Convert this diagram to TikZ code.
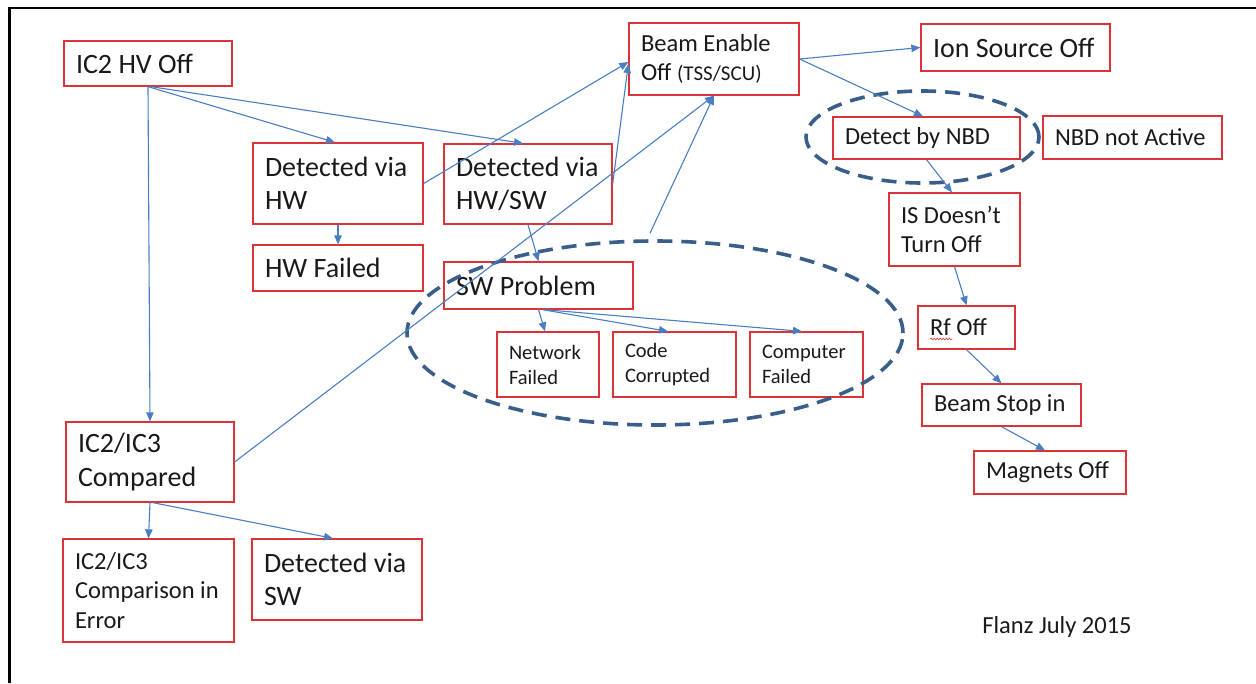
\documentclass[tikz,border=0pt]{standalone}
\usepackage{fontspec}
\setmainfont{Carlito}
\usetikzlibrary{arrows.meta,shapes.geometric,decorations.pathmorphing}
\definecolor{boxred}{RGB}{218,52,56}
\definecolor{linkblue}{RGB}{74,126,195}
\definecolor{groupblue}{RGB}{58,94,138}
\newcommand{\bigtxt}{\fontsize{28}{33.5}\selectfont}
\newcommand{\midtxt}{\fontsize{24.5}{29.5}\selectfont}
\newcommand{\smalltxt}{\fontsize{20.5}{25}\selectfont}
\newcommand{\tinytxt}{\fontsize{21}{24}\selectfont}
\tikzset{
  fbox/.style n args={3}{rectangle, draw=boxred, line width=1.3pt,
    inner xsep=12pt, inner ysep=0pt, minimum width=#1pt, minimum height=#2pt,
    text width=#3pt, align=flush left, text=black!90},
  grp/.style={ellipse, draw=groupblue, line width=3.6pt,
    dash pattern=on 15pt off 9pt, inner sep=0pt},
  link/.style={draw=linkblue, line width=1.1pt,
    -{Triangle[length=9pt,width=7.5pt]}}
}
\begin{document}
\hyphenpenalty=10000
\exhyphenpenalty=10000
\begin{tikzpicture}[x=1pt,y=-1pt]
\useasboundingbox (0,0) rectangle (1256,683);
% page frame (top and left edges only)
\draw[line width=2.4pt, black] (9.5,683) -- (9.5,7.8) -- (1256,7.8);

% left column
\node[fbox={168}{45}{144}, font=\bigtxt] (hvoff) at (148,63.5) {IC2~HV~Off};
\node[fbox={168}{80}{144}, font=\bigtxt] (cmp) at (150,462) {IC2/IC3\\Compared};
\node[fbox={171}{103}{147}, font=\midtxt] (cerr) at (148.5,590.5) {IC2/IC3\\Comparison~in\\Error};
\node[fbox={170}{81}{146}, font=\bigtxt] (dsw) at (337,579.5) {Detected~via\\SW};

% hardware / software detection
\node[fbox={170}{81}{146}, font=\bigtxt] (dhw) at (338,183.5) {Detected~via\\HW};
\node[fbox={170}{46}{146}, font=\bigtxt] (hwf) at (338,268) {HW~Failed};
\node[fbox={168}{80}{144}, font=\bigtxt] (dhwsw) at (528,184) {Detected~via\\HW/SW};
\node[fbox={189}{47}{165}, font=\bigtxt] (swp) at (538.5,285.5) {SW~Problem};
\node[fbox={102}{65}{78}, font=\smalltxt] (net) at (548,364.5) {Network\\Failed};
\node[fbox={123}{65}{99}, font=\smalltxt] (code) at (674.5,364.5) {Code\\Corrupted};
\node[fbox={113}{65}{89}, font=\smalltxt] (comp) at (806.5,364.5) {Computer\\Failed};

% beam enable chain
\node[fbox={170}{72}{146}, font=\midtxt] (beam) at (714,59) {Beam~Enable\\Off~{\tinytxt(TSS/SCU)}};
\node[fbox={189}{47}{165}, font=\bigtxt] (ion) at (1015.5,47.5) {Ion~Source~Off};
\node[fbox={187}{42}{163}, font=\midtxt] (nbd) at (926.5,138) {Detect~by~NBD};
\node[fbox={179}{43}{155}, font=\midtxt] (nbdna) at (1132.5,137.5) {NBD~not~Active};
\node[fbox={131}{73}{107}, font=\midtxt] (isoff) at (954.5,229.5) {IS~Doesn’t\\Turn~Off};
\node[fbox={97}{43}{73}, font=\midtxt] (rf) at (966.5,327.5) {Rf~Off};
\node[fbox={159}{42}{135}, font=\midtxt] (bstop) at (1001.5,405) {Beam~Stop~in};
\node[fbox={152}{43}{128}, font=\midtxt] (mag) at (1050,472.5) {Magnets~Off};

\node[font=\midtxt, text=black!90] (sig) at (1057,627) {Flanz July 2015};

% dashed groupings
\node[grp, minimum width=496pt, minimum height=184pt] (swgrp) at (655,333) {};
\node[grp, minimum width=233pt, minimum height=92pt] (nbdgrp) at (922.5,137) {};

% spelling squiggle under "Rf"
\draw[boxred, line width=0.6pt, decorate,
  decoration={snake, amplitude=0.9pt, segment length=3pt}]
  ([xshift=13pt,yshift=-11.5pt]rf.west) -- ++(22pt,0);

% connectors
\draw[link] (hvoff.south) -- (cmp.north);
\draw[link] (hvoff.south) -- ([xshift=-3pt]dhw.north);
\draw[link] ([xshift=3pt]hvoff.south) -- ([xshift=-5pt]dhwsw.north);
\draw[link] (dhw.south) -- (hwf.north);
\draw[link] (dhw.east) -- ([yshift=-3pt]beam.west);
\draw[link] (dhwsw.east) -- ([yshift=-5pt]beam.west);
\draw[link] (dhwsw.south) -- (swp.north);
\draw[link] (cmp.east) -- (beam.south);
\draw[link] ([xshift=-5pt,yshift=6pt]swgrp.north) -- (beam.south);
\draw[link] (swp.south) -- ([xshift=-3pt]net.north);
\draw[link] ([xshift=4pt]swp.south) -- ([xshift=-6.5pt]code.north);
\draw[link] ([xshift=6pt]swp.south) -- ([xshift=-4.5pt]comp.north);
\draw[link] (beam.east) -- (ion.west);
\draw[link] (beam.east) -- ([xshift=-3.5pt]nbd.north);
\draw[link] (nbd.south) -- ([xshift=-2.5pt]isoff.north);
\draw[link] (isoff.south) -- (rf.north);
\draw[link] (rf.south) -- (bstop.north);
\draw[link] (bstop.south) -- ([xshift=-5pt]mag.north);
\draw[link] (cmp.south) -- (cerr.north);
\draw[link] ([xshift=3pt]cmp.south) -- ([xshift=-4pt]dsw.north);
\end{tikzpicture}
\end{document}
